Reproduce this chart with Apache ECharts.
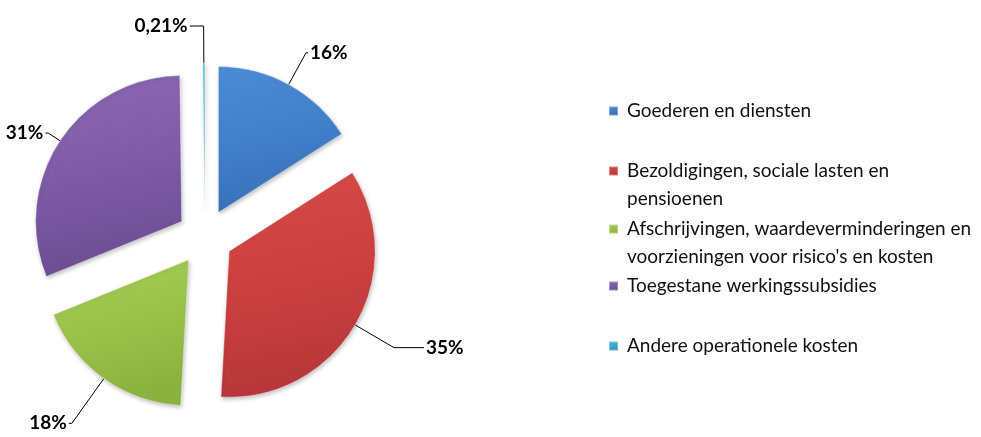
<!DOCTYPE html>
<html>
<head>
<meta charset="utf-8">
<script src="https://cdn.jsdelivr.net/npm/echarts@6/dist/echarts.min.js"></script>
<style>
  html, body { margin: 0; padding: 0; background: #fff; }
  #chart { width: 981px; height: 437px; }
</style>
</head>
<body>
<div id="chart"></div>
<script>
let categories = [
  "Goederen en diensten",
  "Bezoldigingen, sociale lasten en\npensioenen",
  "Afschrijvingen, waardeverminderingen en\nvoorzieningen voor risico's en kosten",
  "Toegestane werkingssubsidies",
  "Andere operationele kosten",
];
let shares = [16, 35, 18, 31, 0.21];
let colors = ["#4380cc", "#cc4040", "#9bc34b", "#7e5ca6", "#3aaed0"];
let lightColors = ["#4d8bd6", "#d64c48", "#a6cc56", "#8a68b2", "#4cbcdc"];
let darkColors = ["#3670b8", "#b5373a", "#8bb23e", "#6b4d92", "#2b8eae"];
// vertical centre of the first text line of each legend entry
let legendCenters = [110, 170, 228, 285, 345];
let lineHeight = 29;

// leader line lengths per slice [length, length2]
let lineLengths = [
  [36, 2],
  [45, 30],
  [55, 3],
  [14, 3],
  [37, 14],
];

let chart = echarts.init(document.getElementById("chart"));

let pieData = shares.map((value, i) => {
  return {
    name: categories[i],
    value: value,
    selected: true,
    itemStyle: {
      color: new echarts.graphic.LinearGradient(0, 0, 0.3, 1, [
        { offset: 0, color: lightColors[i] },
        { offset: 0.5, color: colors[i] },
        { offset: 1, color: darkColors[i] },
      ]),
    },
    labelLine: {
      length: lineLengths[i][0],
      length2: lineLengths[i][1],
    },
  };
});

// one legend per entry so the uneven spacing can be kept
let legends = categories.map((name, i) => {
  return {
    data: [name],
    left: 603,
    top: legendCenters[i] - lineHeight / 2 - 4,
    icon: "rect",
    itemWidth: 9,
    itemHeight: 9,
    selectedMode: false,
    formatter: (n) => n.split("\n")[0],
    textStyle: {
      fontFamily: "Lato",
      fontSize: 19,
      color: "#111",
      lineHeight: lineHeight,
      padding: [0, 0, 0, 4],
    },
  };
});

// second lines of the wrapped legend entries
let titles = [];
categories.forEach((name, i) => {
  let parts = name.split("\n");
  if (parts.length > 1) {
    titles.push({
      text: parts[1],
      left: 627,
      top: legendCenters[i] + lineHeight / 2,
      padding: 0,
      textStyle: {
        fontFamily: "Lato",
        fontSize: 19,
        fontWeight: "normal",
        color: "#111",
        lineHeight: lineHeight,
      },
    });
  }
});

let option = {
  animation: false,
  color: colors,
  title: titles,
  legend: legends,
  series: [
    {
      type: "pie",
      center: [205, 237],
      radius: 146,
      startAngle: 90,
      clockwise: true,
      selectedMode: "multiple",
      selectedOffset: 28,
      avoidLabelOverlap: false,
      itemStyle: {
        borderColor: "rgba(255,255,255,0.35)",
        borderWidth: 1,
        shadowColor: "rgba(0,0,0,0.25)",
        shadowBlur: 4,
        shadowOffsetX: 1,
        shadowOffsetY: 2,
      },
      label: {
        show: true,
        position: "outside",
        fontFamily: "Lato",
        fontWeight: "bold",
        fontSize: 19,
        color: "#000",
        distanceToLabelLine: 2,
        formatter: (p) => String(p.value).replace(".", ",") + "%",
      },
      labelLine: {
        show: true,
        lineStyle: { color: "#000", width: 1 },
      },
      emphasis: { disabled: true },
      data: pieData,
    },
  ],
};

chart.setOption(option);
</script>
</body>
</html>
